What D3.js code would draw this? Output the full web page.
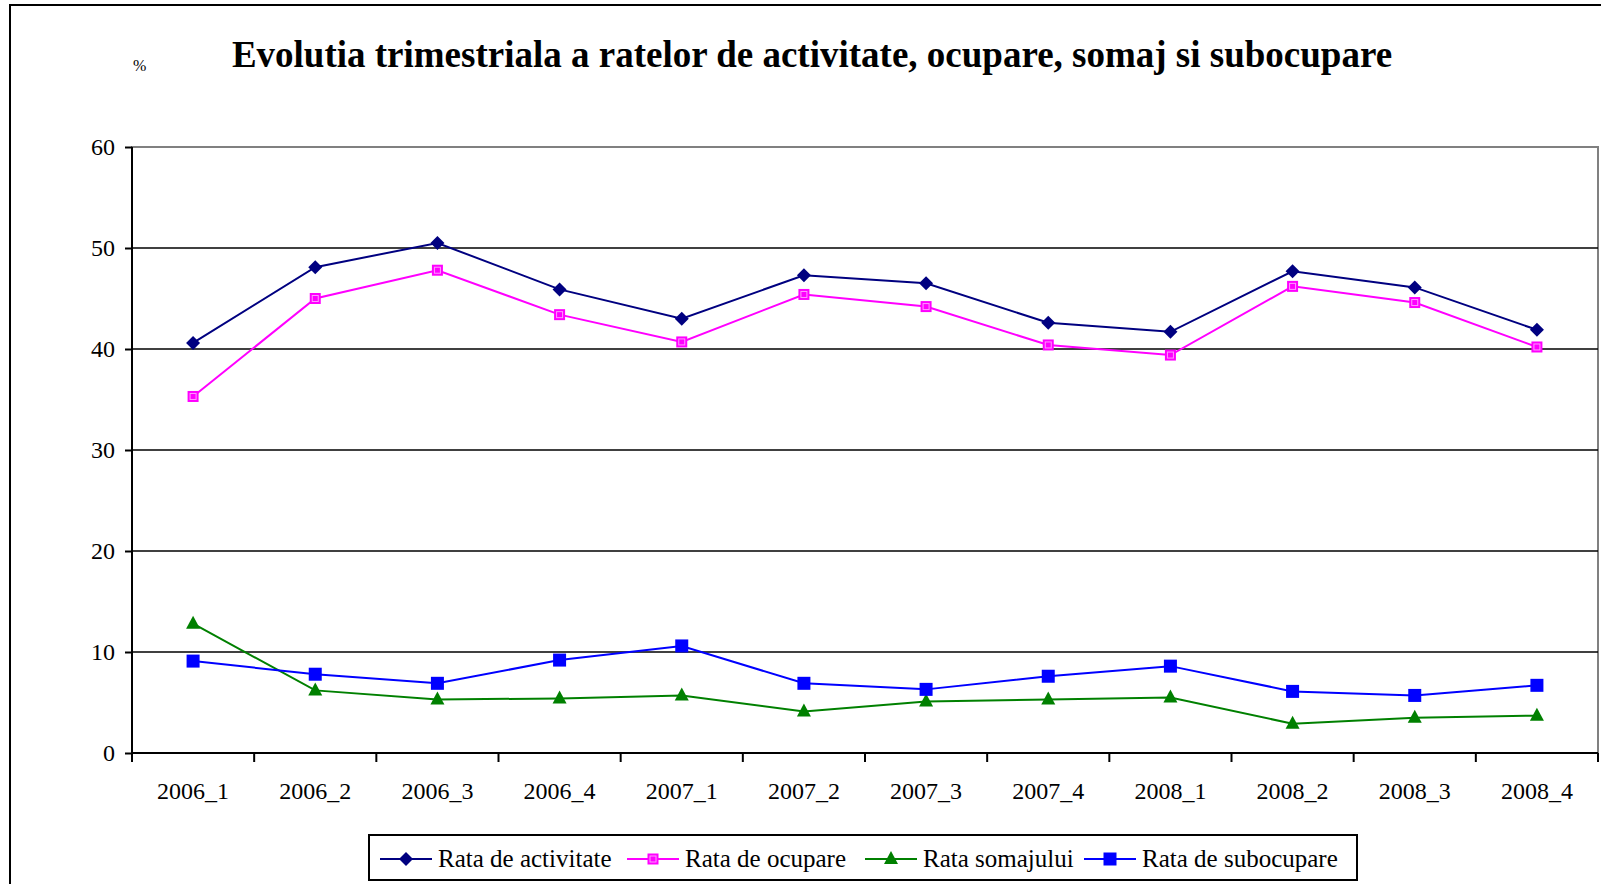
<!DOCTYPE html>
<html>
<head>
<meta charset="utf-8">
<script src="https://cdn.jsdelivr.net/npm/d3@7"></script>
<style>
  body { margin: 0; background: #fff; }
  svg { display: block; font-family: "Liberation Serif", "Times New Roman", serif; }
</style>
</head>
<body>
<svg id="chart" width="1601" height="884"></svg>
<script>
// data
var quarters = ["2006_1", "2006_2", "2006_3", "2006_4", "2007_1", "2007_2", "2007_3", "2007_4", "2008_1", "2008_2", "2008_3", "2008_4"];
var rataActivitate = [40.6, 48.1, 50.5, 45.9, 43.0, 47.3, 46.5, 42.6, 41.7, 47.7, 46.1, 41.9];
var rataOcupare = [35.3, 45.0, 47.8, 43.4, 40.7, 45.4, 44.2, 40.4, 39.4, 46.2, 44.6, 40.2];
var rataSomaj = [12.8, 6.2, 5.3, 5.4, 5.7, 4.1, 5.1, 5.3, 5.5, 2.9, 3.5, 3.7];
var rataSubocupare = [9.1, 7.8, 6.9, 9.2, 10.6, 6.9, 6.3, 7.6, 8.6, 6.1, 5.7, 6.7];
var yTicks = [0, 10, 20, 30, 40, 50, 60];

var series = [
  {name: "Rata de activitate", values: rataActivitate, color: "#000080", shape: "diamond"},
  {name: "Rata de ocupare", values: rataOcupare, color: "#ff00ff", shape: "square2"},
  {name: "Rata somajului", values: rataSomaj, color: "#008000", shape: "triangle"},
  {name: "Rata de subocupare", values: rataSubocupare, color: "#0000ff", shape: "square"}
];

(function() {
var svg = d3.select("#chart");

// outer frame (right and bottom fall outside the picture)
svg.append("path")
  .attr("d", "M10,884 L10,5 L1601,5")
  .attr("fill", "none")
  .attr("stroke", "#000")
  .attr("stroke-width", 2);

// title
svg.append("text")
  .attr("x", 812)
  .attr("y", 67)
  .attr("text-anchor", "middle")
  .style("font-size", "37px")
  .style("font-weight", "bold")
  .text("Evolutia trimestriala a ratelor de activitate, ocupare, somaj si subocupare");

svg.append("text")
  .attr("x", 133)
  .attr("y", 71)
  .style("font-size", "16px")
  .text("%");

var plotLeft = 132, plotRight = 1598, plotTop = 147, plotBottom = 753;

var x = d3.scaleBand()
  .domain(quarters)
  .range([plotLeft, plotRight]);
var y = d3.scaleLinear()
  .domain([0, 60])
  .range([plotBottom, plotTop]);

// plot area border
svg.append("rect")
  .attr("x", plotLeft)
  .attr("y", plotTop)
  .attr("width", plotRight - plotLeft)
  .attr("height", plotBottom - plotTop)
  .attr("fill", "none")
  .attr("stroke", "#808080")
  .attr("stroke-width", 2);

// gridlines
svg.append("g")
  .selectAll("line")
  .data(yTicks.filter(function(d) { return d > 0 && d < 60; }))
  .enter().append("line")
  .attr("x1", plotLeft)
  .attr("x2", plotRight)
  .attr("y1", function(d) { return y(d); })
  .attr("y2", function(d) { return y(d); })
  .attr("stroke", "#000")
  .attr("stroke-width", 1.5);

// y axis
var yAxis = d3.axisLeft(y)
  .tickValues(yTicks)
  .tickSize(7)
  .tickPadding(10);
var gy = svg.append("g")
  .attr("transform", "translate(" + plotLeft + ",0)")
  .call(yAxis);
gy.select(".domain").attr("stroke-width", 2).attr("d", "M0," + plotTop + "V" + plotBottom);
gy.selectAll(".tick line").attr("stroke-width", 2);
gy.selectAll("text")
  .attr("fill", "#000")
  .style("font-size", "24px")
  .style("font-family", "Liberation Serif, serif");

// x axis with ticks between categories
var xAxis = d3.axisBottom(x).tickSize(0).tickPadding(29);
var gx = svg.append("g")
  .attr("transform", "translate(0," + plotBottom + ")")
  .call(xAxis);
gx.select(".domain").attr("stroke-width", 2).attr("d", "M" + plotLeft + ",0H" + plotRight);
gx.selectAll("text")
  .attr("fill", "#000")
  .style("font-size", "24px")
  .style("font-family", "Liberation Serif, serif");
gx.selectAll(".sep")
  .data(d3.range(quarters.length + 1))
  .enter().append("line")
  .attr("class", "sep")
  .attr("x1", function(i) { return plotLeft + i * x.step(); })
  .attr("x2", function(i) { return plotLeft + i * x.step(); })
  .attr("y1", 0)
  .attr("y2", 9)
  .attr("stroke", "#000")
  .attr("stroke-width", 2);

function marker(g, shape, color, cx, cy) {
  if (shape === "diamond") {
    g.append("path")
      .attr("d", "M" + cx + "," + (cy - 7) + "L" + (cx + 7) + "," + cy + "L" + cx + "," + (cy + 7) + "L" + (cx - 7) + "," + cy + "Z")
      .attr("fill", color);
  } else if (shape === "triangle") {
    g.append("path")
      .attr("d", "M" + cx + "," + (cy - 8) + "L" + (cx + 7) + "," + (cy + 5) + "L" + (cx - 7) + "," + (cy + 5) + "Z")
      .attr("fill", color);
  } else if (shape === "square2") {
    g.append("rect")
      .attr("x", cx - 5.5).attr("y", cy - 5.5)
      .attr("width", 11).attr("height", 11)
      .attr("fill", color);
    g.append("rect")
      .attr("x", cx - 3).attr("y", cy - 3)
      .attr("width", 6).attr("height", 6)
      .attr("fill", "none")
      .attr("stroke", "#ff99ff")
      .attr("stroke-width", 1);
  } else {
    g.append("rect")
      .attr("x", cx - 6.5).attr("y", cy - 6.5)
      .attr("width", 13).attr("height", 13)
      .attr("fill", color);
  }
}

var line = d3.line()
  .x(function(d, i) { return x(quarters[i]) + x.bandwidth() / 2; })
  .y(function(d) { return y(d); });

series.forEach(function(s) {
  var g = svg.append("g");
  g.append("path")
    .attr("d", line(s.values))
    .attr("fill", "none")
    .attr("stroke", s.color)
    .attr("stroke-width", 2);
  s.values.forEach(function(v, i) {
    marker(g, s.shape, s.color, x(quarters[i]) + x.bandwidth() / 2, y(v));
  });
});

// legend
var lg = svg.append("g");
lg.append("rect")
  .attr("x", 369)
  .attr("y", 835)
  .attr("width", 988)
  .attr("height", 45)
  .attr("fill", "#fff")
  .attr("stroke", "#000")
  .attr("stroke-width", 2);
var legendX = [380, 627, 865, 1084];
series.forEach(function(s, i) {
  var lx = legendX[i];
  lg.append("line")
    .attr("x1", lx).attr("x2", lx + 52)
    .attr("y1", 859).attr("y2", 859)
    .attr("stroke", s.color)
    .attr("stroke-width", 2);
  marker(lg, s.shape, s.color, lx + 26, 859);
  lg.append("text")
    .attr("x", lx + 58)
    .attr("y", 867)
    .style("font-size", "25px")
    .text(s.name);
});
})();
</script>
</body>
</html>
